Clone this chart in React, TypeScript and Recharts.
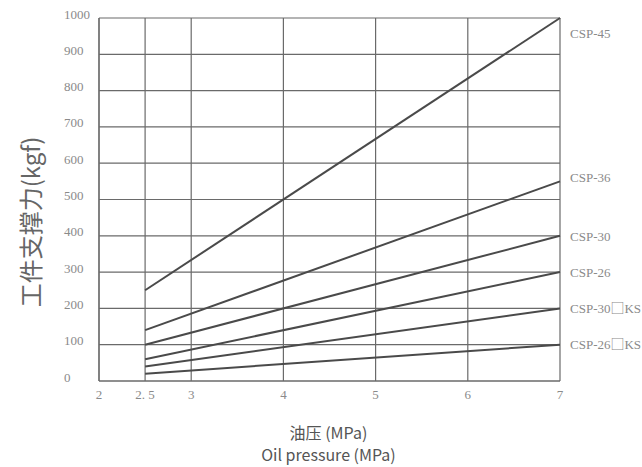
import { LineChart, Line, XAxis, YAxis, CartesianGrid, LabelList, Label } from 'recharts';

// Oil pressure (MPa) at the two ends of each line
const pressure = [2.5, 7];

// Workpiece support force (kgf) per model
const csp45 = [250, 1000];
const csp36 = [140, 550];
const csp30 = [100, 400];
const csp26 = [60, 300];
const csp30ks = [40, 200];
const csp26ks = [20, 100];

const xTicks = [2, 2.5, 3, 4, 5, 6, 7];
const xTickText = ['2', '2. 5', '3', '4', '5', '6', '7'];
const yTicks = [0, 100, 200, 300, 400, 500, 600, 700, 800, 900, 1000];

const series = [
  { key: 'csp45', name: 'CSP-45', values: csp45, dy: 15 },
  { key: 'csp36', name: 'CSP-36', values: csp36, dy: -4 },
  { key: 'csp30', name: 'CSP-30', values: csp30, dy: 1 },
  { key: 'csp26', name: 'CSP-26', values: csp26, dy: 0 },
  { key: 'csp30ks', name: 'CSP-30\u25a1KS', values: csp30ks, dy: 0 },
  { key: 'csp26ks', name: 'CSP-26\u25a1KS', values: csp26ks, dy: 0 },
];

const data = pressure.map((p, i) => {
  const row: Record<string, number> = { p };
  series.forEach((s) => {
    row[s.key] = s.values[i];
  });
  return row;
});

const tickFont = '"Liberation Serif", "DejaVu Serif", serif';
const sansFont = '"Noto Sans CJK SC", "Noto Sans", sans-serif';
const lineColor = '#4a4a4a';
const gridColor = '#6a6a6a';
const textColor = '#8a8a8a';

const YTick = ({ y, payload }: any) => (
  <text x={64} y={y - 4} dy="0.35em" textAnchor="start" fill={textColor} fontSize={13} fontFamily={tickFont}>
    {payload.value}
  </text>
);

const XTick = ({ x, y, payload }: any) => {
  const idx = xTicks.indexOf(payload.value);
  return (
    <text x={x} y={y + 5} dy="0.35em" textAnchor="middle" fill={textColor} fontSize={13} fontFamily={tickFont}>
      {xTickText[idx]}
    </text>
  );
};

// model name at the right end of each line; the box glyph uses the CJK font
const endLabel = (name: string, dy: number) => (props: any) => {
  const { x, y, index } = props;
  if (index !== pressure.length - 1) return null;
  const parts = name.split('\u25a1');
  return (
    <text x={x + 10} y={y + dy} dy="0.35em" textAnchor="start" fill={textColor} fontSize={13} fontFamily={tickFont}>
      {parts[0]}
      {parts.length > 1 && (
        <>
          <tspan fontFamily={sansFont} fontSize={14}>{'\u25a1'}</tspan>
          <tspan>{parts[1]}</tspan>
        </>
      )}
    </text>
  );
};

export default function App() {
  return (
    <div style={{ position: 'fixed', left: 0, top: 0, width: 642, height: 467, background: '#fff' }}>
      <LineChart width={642} height={467} data={data} margin={{ top: 18, right: 82, bottom: 0, left: 0 }}>
        <CartesianGrid stroke={gridColor} strokeWidth={1.2} />
        <XAxis
          dataKey="p"
          type="number"
          domain={[2, 7]}
          ticks={xTicks}
          height={86}
          axisLine={{ stroke: gridColor, strokeWidth: 1.2 }}
          tickLine={false}
          tick={<XTick />}
          interval={0}
        >
          <Label
            content={(props: any) => {
              const vb = props.viewBox;
              const cx = vb.x + vb.width / 2 - 1;
              return (
                <g fontFamily={sansFont} fill="#555" fontSize={16} textAnchor="middle">
                  <text x={cx} y={vb.y + 58}>油压 (MPa)</text>
                  <text x={cx} y={vb.y + 80}>Oil pressure (MPa)</text>
                </g>
              );
            }}
          />
        </XAxis>
        <YAxis
          type="number"
          domain={[0, 1000]}
          ticks={yTicks}
          width={99}
          axisLine={{ stroke: gridColor, strokeWidth: 1.2 }}
          tickLine={false}
          tick={<YTick />}
          interval={0}
        >
          <Label
            content={() => (
              <text
                x={32}
                y={222}
                transform="rotate(-90 32 222)"
                textAnchor="middle"
                dy="0.35em"
                fill="#666"
                fontSize={24}
                fontFamily={sansFont}
              >
                工件支撑力(kgf)
              </text>
            )}
          />
        </YAxis>
        {series.map((s) => (
          <Line
            key={s.key}
            dataKey={s.key}
            type="linear"
            stroke={lineColor}
            strokeWidth={2}
            dot={false}
            activeDot={false}
            isAnimationActive={false}
          >
            <LabelList dataKey={s.key} content={endLabel(s.name, s.dy)} />
          </Line>
        ))}
      </LineChart>
    </div>
  );
}
